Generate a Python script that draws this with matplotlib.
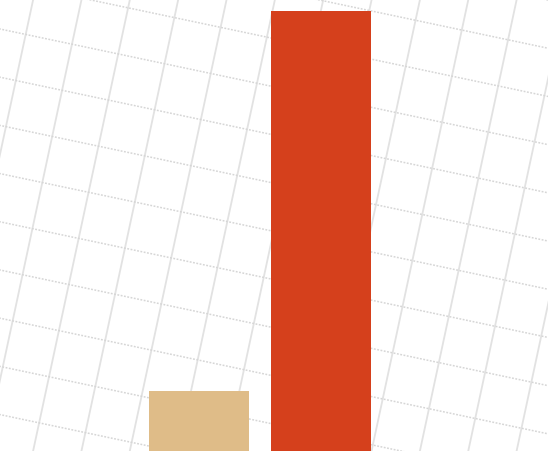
import numpy as np
import matplotlib.pyplot as plt

# bar data
categories = ['A', 'B']
values = [13.6, 100]
colors = ['#dfbc88', '#d5401c']

W, H = 548, 452
fig = plt.figure(figsize=(W / 100, H / 100), dpi=100)

# background: tilted grid, drawn in pixel coords
bg = fig.add_axes([0, 0, 1, 1], zorder=0)
bg.set_xlim(0, W)
bg.set_ylim(H, 0)
bg.axis('off')

tilt = np.tan(np.radians(12.1))
step_x = 48.35
step_y = 48.2
ys = np.array([-20, H + 20])
for k in range(-3, 16):
    x0 = 33.3 + k * step_x
    bg.plot(x0 - tilt * ys, ys, color='#e2e2e2', lw=1.3, solid_capstyle='butt')
xs = np.array([-20, W + 20])
for k in range(-4, 14):
    y0 = 30 + k * step_y
    bg.plot(xs, y0 + 0.211 * xs, color='#d6d6d6', lw=1.1,
            linestyle=(0, (1.2, 1.0)))

# bars
ax = fig.add_axes([0, 0, 1, 1], zorder=1)
ax.patch.set_alpha(0)
x = np.arange(len(categories))
ax.bar(x, values, width=0.817, color=colors)
ax.set_xlim(-1.635, 2.864)
ax.set_ylim(0, 102.7)
ax.axis('off')

fig.savefig('out.png', dpi=100)
